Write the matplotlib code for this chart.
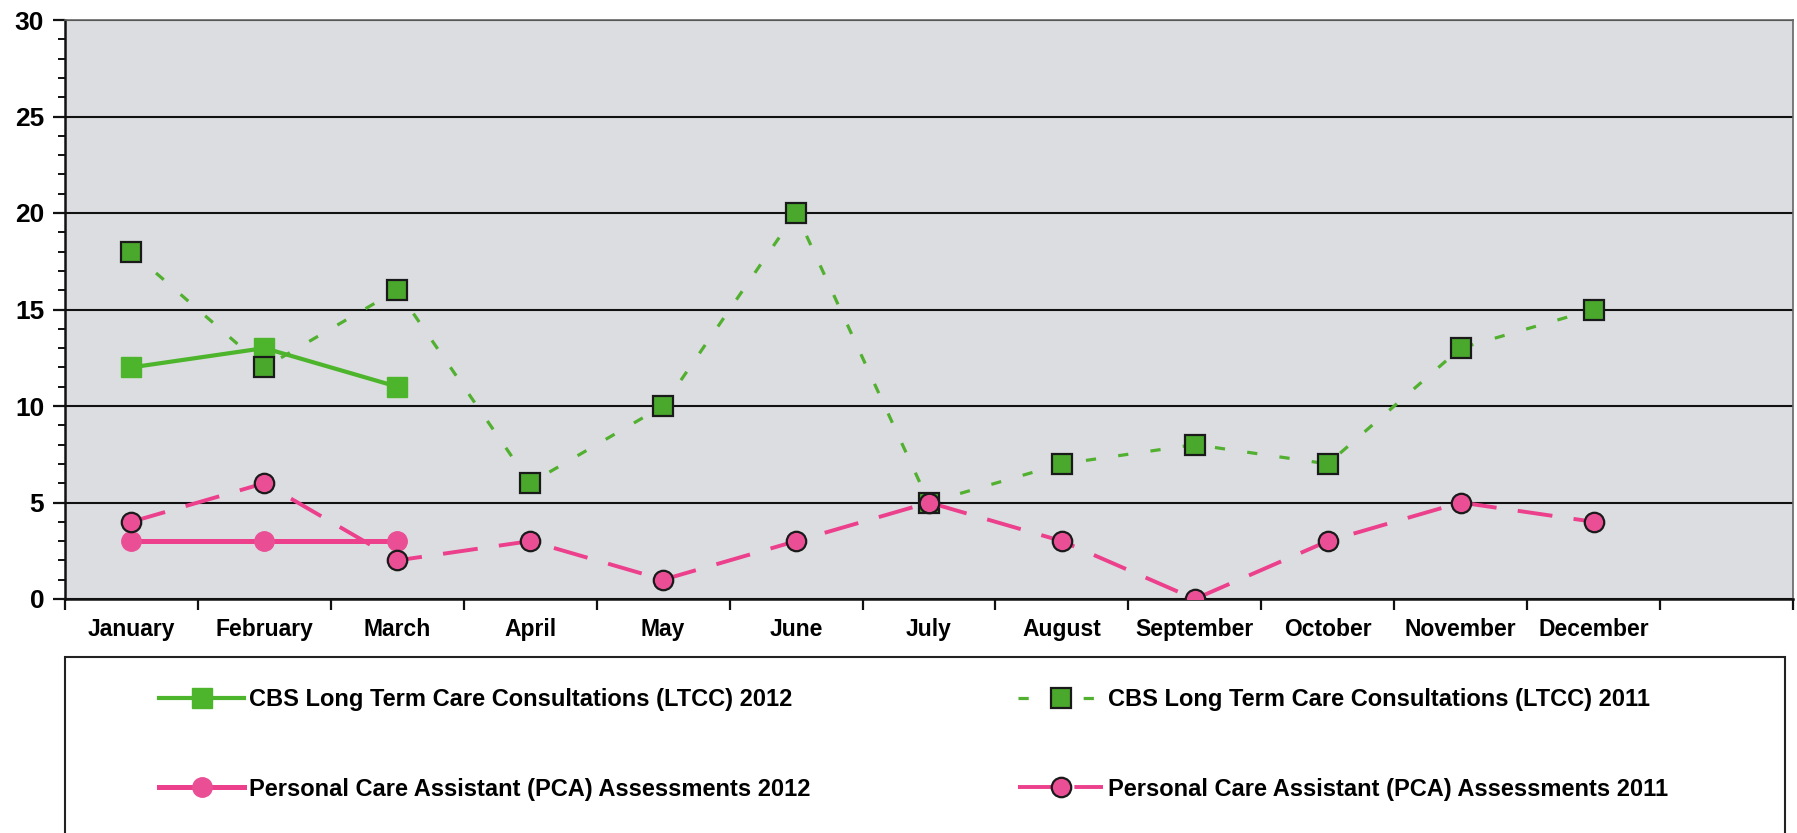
import numpy as np
import matplotlib
matplotlib.use("Agg")
import matplotlib.pyplot as plt
from matplotlib.patches import Rectangle
from matplotlib.ticker import FixedLocator, MultipleLocator

# ---- data ----
months = ["January", "February", "March", "April", "May", "June", "July",
          "August", "September", "October", "November", "December"]
ltcc_2012 = [12, 13, 11]
pca_2012 = [3, 3, 3]
ltcc_2011 = [18, 12, 16, 6, 10, 20, 5, 7, 8, 7, 13, 15]
pca_2011 = [4, 6, 2, 3, 1, 3, 5, 3, 0, 3, 5, 4]
labels = ["CBS Long Term Care Consultations (LTCC) 2012",
          "Personal Care Assistant (PCA) Assessments 2012",
          "CBS Long Term Care Consultations (LTCC) 2011",
          "Personal Care Assistant (PCA) Assessments 2011"]
n_slots = 13  # 12 months plus one empty category at the end

plt.rcParams['font.family'] = ['Liberation Sans', 'DejaVu Sans']

W, H = 1797, 833
fig = plt.figure(figsize=(W / 100, H / 100), dpi=100)
fig.patch.set_facecolor('white')
ax = fig.add_axes([65 / W, (H - 599) / H, (1793 - 65) / W, (599 - 20) / H])
ax.set_facecolor('#dcdde0')

green_solid = '#4cb52c'
green_dash = '#52b030'
green_fill = '#4aa82c'
pink_line = '#ec3f8c'
pink_fill = '#ea4f96'

x12 = np.arange(len(ltcc_2012))
x11 = np.arange(len(ltcc_2011))

h1, = ax.plot(x12, ltcc_2012, color=green_solid, lw=3.0, marker='s', ms=14,
              mfc=green_solid, mec=green_solid, zorder=3, label=labels[0])
h2, = ax.plot(np.arange(len(pca_2012)), pca_2012, color=pink_line, lw=3.6,
              marker='o', ms=14, mfc=pink_fill, mec=pink_fill, zorder=3,
              label=labels[1])
h3, = ax.plot(x11, ltcc_2011, color=green_dash, lw=2.3,
              linestyle=(0, (3.2, 7.0)), marker='s', ms=14, mfc=green_fill,
              mec='#1a1a1a', mew=1.6, zorder=4, label=labels[2])
h4, = ax.plot(np.arange(len(pca_2011)), pca_2011, color=pink_line, lw=2.8,
              linestyle=(0, (9, 5.5)), marker='o', ms=14, mfc=pink_fill,
              mec='#1a1a1a', mew=1.6, zorder=5, label=labels[3])

ax.set_xlim(-0.5, n_slots - 0.5)
ax.set_ylim(0, 30)
ax.set_yticks(np.arange(0, 31, 5))
ax.yaxis.set_minor_locator(MultipleLocator(1))
ax.grid(axis='y', which='major', color='#111111', lw=1.5, zorder=1)
ax.set_axisbelow(True)

# x: tick marks at category boundaries, labels at category centres
ax.xaxis.set_major_locator(FixedLocator(np.arange(n_slots + 1) - 0.5))
ax.set_xticklabels([])
ax.xaxis.set_minor_locator(FixedLocator(np.arange(len(months))))
ax.set_xticks(np.arange(len(months)), months, minor=True)
ax.tick_params(axis='x', which='major', length=8, width=1.6, direction='out',
               color='#111111')
ax.tick_params(axis='x', which='minor', length=0, pad=14, labelsize=16.5)
for t in ax.get_xticklabels(minor=True):
    t.set_fontweight('bold')

ax.tick_params(axis='y', which='major', length=9, width=1.6, pad=6,
               labelsize=19, color='#111111')
ax.tick_params(axis='y', which='minor', length=5, width=1.4, color='#111111')
for t in ax.get_yticklabels():
    t.set_fontweight('bold')

for s in ['left', 'bottom']:
    ax.spines[s].set_color('#111111')
    ax.spines[s].set_linewidth(1.8)
for s in ['top', 'right']:
    ax.spines[s].set_color('#666666')
    ax.spines[s].set_linewidth(1.2)

# legend frame
fig.patches.append(Rectangle((65 / W, -0.05), (1785 - 65) / W,
                             (H - 657) / H + 0.05, transform=fig.transFigure,
                             fill=False, edgecolor='#222222', lw=1.5))

yc = (H - (699 + 790) / 2) / H
common = dict(loc='center left', frameon=False, borderpad=0,
              borderaxespad=0, handlelength=3.6, handletextpad=0.2,
              labelspacing=2.8, prop={'weight': 'bold', 'size': 17})
leg1 = fig.legend(handles=[h1, h2], bbox_to_anchor=(159 / W, yc), **common)
leg2 = fig.legend(handles=[h3, h4], bbox_to_anchor=(1018 / W, yc), **common)

fig.savefig('out.png', dpi=100, facecolor='white')
